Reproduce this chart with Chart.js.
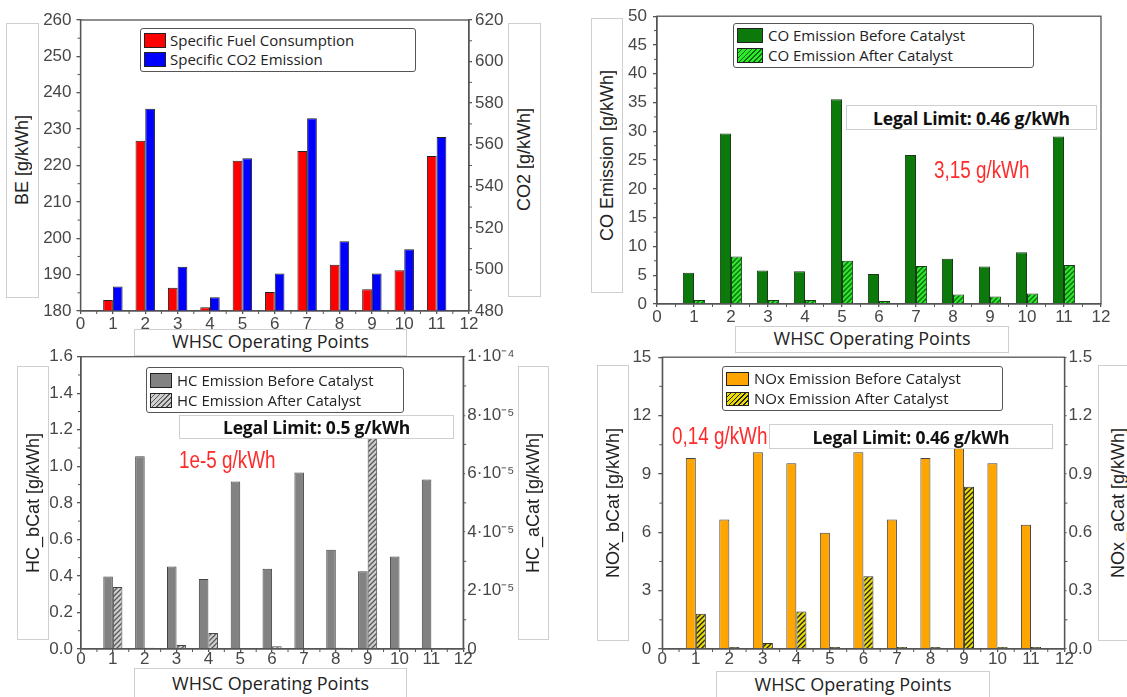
<!DOCTYPE html>
<html>
<head>
<meta charset="utf-8">
<script src="https://cdn.jsdelivr.net/npm/chart.js@4.4.0/dist/chart.umd.min.js"></script>
<style>
    body { margin: 0; background: #fff; width: 1127px; height: 697px; position: relative; overflow: hidden; }
    .panel { position: absolute; }
    .box { position: absolute; background: #fff; border: 1px solid #cfcfcf; box-sizing: border-box; }
    .ytitle { display: flex; align-items: center; justify-content: center; }
    .ytitle span { writing-mode: vertical-rl; transform: rotate(180deg); white-space: nowrap;
        font: 18px 'Liberation Sans', Arial, sans-serif; color: #222; }
    .xtitle { display: flex; justify-content: center; align-items: flex-start;
        font: 18px 'Open Sans', sans-serif; color: #222; }
    .limit { display: flex; justify-content: center; align-items: center;
        font: bold 17.5px 'Open Sans', sans-serif; color: #111; letter-spacing: -0.2px; }
    .legend { position: absolute; background: #fff; border: 1.3px solid #555; border-radius: 3px; box-sizing: border-box; }
    .legend .sw { position: absolute; border: 1px solid #222; box-sizing: border-box; }
    .legend .lt { position: absolute; font: 15px 'Open Sans', sans-serif; color: #222; line-height: 16px; white-space: nowrap; }
    .red { position: absolute; font: 23px 'Liberation Sans', Arial, sans-serif; line-height: 23px; color: #ff2b2b;
        transform: scaleX(0.82); transform-origin: left center; white-space: nowrap; }
</style>
</head>
<body>
<div class="panel" style="left:30px;top:0px"><canvas id="chart-fuel" width="490" height="340"></canvas></div>
<div class="panel" style="left:620px;top:0px"><canvas id="chart-co" width="507" height="340"></canvas></div>
<div class="panel" style="left:30px;top:340px"><canvas id="chart-hc" width="490" height="357"></canvas></div>
<div class="panel" style="left:620px;top:340px"><canvas id="chart-nox" width="507" height="357"></canvas></div>
<div id="overlay"></div>

<script>
// WHSC Betriebspunkte
const points = [1, 2, 3, 4, 5, 6, 7, 8, 9, 10, 11];

// spezifischer Verbrauch und CO2
const fuelBE = [183.0, 226.8, 186.4, 181.0, 221.3, 185.2, 224.0, 192.7, 186.0, 191.2, 222.6];
const co2 = [491.8, 577.3, 501.3, 486.6, 553.5, 498.1, 572.7, 513.6, 498.1, 509.7, 563.7];

// CO vor / nach Kat
const coBefore = [5.45, 29.6, 5.8, 5.7, 35.55, 5.2, 25.9, 7.86, 6.5, 9.0, 29.1];
const coAfter = [0.7, 8.26, 0.7, 0.7, 7.5, 0.5, 6.6, 1.66, 1.3, 1.83, 6.77];

// HC vor / nach Kat (nach Kat auf eigener Achse)
const hcBefore = [0.397, 1.055, 0.452, 0.383, 0.917, 0.439, 0.966, 0.543, 0.425, 0.507, 0.928];
const hcAfter = [2.12e-5, 4e-7, 1.4e-6, 5.5e-6, 3e-7, 9e-7, 3e-7, 4e-7, 7.3e-5, 3e-7, 3e-7];

// NOx vor / nach Kat
const noxBefore = [9.82, 6.66, 10.11, 9.55, 5.98, 10.11, 6.66, 9.82, 10.4, 9.55, 6.39];
const noxAfter = [0.181, 0.01, 0.031, 0.193, 0.01, 0.374, 0.01, 0.01, 0.834, 0.01, 0.01];

// Beschriftungen
const xTitle = 'WHSC Operating Points';
const fuelLegend = ['Specific Fuel Consumption', 'Specific CO2 Emission'];
const coLegend = ['CO Emission Before Catalyst', 'CO Emission After Catalyst'];
const hcLegend = ['HC Emission Before Catalyst', 'HC Emission After Catalyst'];
const noxLegend = ['NOx Emission Before Catalyst', 'NOx Emission After Catalyst'];
const coLimit = 'Legal Limit: 0.46 g/kWh';
const hcLimit = 'Legal Limit: 0.5 g/kWh';
const noxLimit = 'Legal Limit: 0.46 g/kWh';
const coCycle = '3,15 g/kWh';
const hcCycle = '1e-5 g/kWh';
const noxCycle = '0,14 g/kWh';

const axisCol = '#555';
const tickFont = { family: "'Liberation Sans', Arial, sans-serif", size: 17 };
const tickCol = '#474747';

// Schraffur fuer "nach Kat"
function hatch(base, stripe) {
    const c = document.createElement('canvas');
    c.width = 5; c.height = 5;
    const g = c.getContext('2d');
    g.fillStyle = base;
    g.fillRect(0, 0, 5, 5);
    g.strokeStyle = stripe;
    g.lineWidth = 1.3;
    g.beginPath();
    g.moveTo(-1, 6); g.lineTo(6, -1);
    g.moveTo(-1, 1); g.lineTo(1, -1);
    g.moveTo(4, 6); g.lineTo(6, 4);
    g.stroke();
    return g.createPattern(c, 'repeat');
}

function css_hatch(base, stripe) {
    return `repeating-linear-gradient(135deg, ${base} 0 2.2px, ${stripe} 2.2px 3.5px)`;
}

// Rahmen um die Plotflaeche
const frame = {
    id: 'frame',
    afterDraw(chart) {
        const a = chart.chartArea, ctx = chart.ctx;
        ctx.save();
        ctx.strokeStyle = axisCol;
        ctx.lineWidth = 1.3;
        ctx.strokeRect(a.left, a.top, a.right - a.left, a.bottom - a.top);
        ctx.restore();
    }
};

// Zwischenstriche auf den Achsen
const minorTicks = {
    id: 'minorTicks',
    afterDraw(chart) {
        const a = chart.chartArea, ctx = chart.ctx;
        ctx.save();
        ctx.strokeStyle = axisCol;
        ctx.lineWidth = 1;
        Object.values(chart.scales).forEach(s => {
            const t = s.ticks;
            for (let i = 0; i < t.length - 1; i++) {
                const p = s.getPixelForValue((t[i].value + t[i + 1].value) / 2);
                ctx.beginPath();
                if (s.axis === 'x') { ctx.moveTo(p, a.bottom); ctx.lineTo(p, a.bottom + 3); }
                else if (s.position === 'left') { ctx.moveTo(a.left, p); ctx.lineTo(a.left - 3, p); }
                else { ctx.moveTo(a.right, p); ctx.lineTo(a.right + 3, p); }
                ctx.stroke();
            }
        });
        ctx.restore();
    }
};

function series(ys) {
    return points.map((p, i) => ({ x: p, y: ys[i] }));
}

function yAxis(pos, min, max, step, width, tickLen, pad, fmt) {
    return {
        type: 'linear', position: pos, min: min, max: max,
        ticks: { stepSize: step, font: tickFont, color: tickCol, padding: pad, callback: fmt },
        grid: { drawOnChartArea: false, tickLength: tickLen, color: axisCol, lineWidth: 1.3 },
        border: { color: axisCol, width: 1.3 },
        afterFit: s => { s.width = width; }
    };
}

function makeChart(id, datasets, o) {
    const scales = {
        x: {
            type: 'linear', min: 0, max: 12, offset: false,
            ticks: { stepSize: 1, font: tickFont, color: tickCol, padding: o.xPad, maxRotation: 0, autoSkip: false },
            grid: { drawOnChartArea: false, offset: false, tickLength: 3, color: axisCol, lineWidth: 1.3 },
            border: { color: axisCol, width: 1.3 },
            afterFit: s => { s.height = o.xHeight; }
        },
        y: o.y
    };
    if (o.y2) scales.y2 = o.y2;
    return new Chart(document.getElementById(id), {
        type: 'bar',
        data: { datasets: datasets },
        options: {
            responsive: false,
            animation: false,
            layout: { padding: { top: o.top, right: o.right || 0, left: 0, bottom: 0 } },
            plugins: { legend: { display: false }, tooltip: { enabled: false } },
            datasets: { bar: { categoryPercentage: 0.6, barPercentage: 1, borderWidth: 1 } },
            scales: scales
        },
        plugins: [frame, minorTicks]
    });
}

// Verbrauch / CO2
makeChart('chart-fuel', [
    { data: series(fuelBE), yAxisID: 'y', backgroundColor: '#ff0000', borderColor: '#222' },
    { data: series(co2), yAxisID: 'y2', backgroundColor: '#0000ff', borderColor: '#222' }
], {
    top: 20, xHeight: 29, xPad: 0,
    y: yAxis('left', 180, 260, 10, 50.5, 4, 5),
    y2: yAxis('right', 480, 620, 20, 51, 3, 3)
});

// CO
makeChart('chart-co', [
    { data: series(coBefore), yAxisID: 'y', backgroundColor: '#0b7a0b', borderColor: '#1a3a1a' },
    { data: series(coAfter), yAxisID: 'y', backgroundColor: hatch('#2ee82e', '#0a6a0a'), borderColor: '#1a3a1a' }
], {
    top: 13.3, right: 26, xHeight: 36, xPad: 0,
    y: yAxis('left', 0, 50, 5, 37, 4, 6)
});

// HC
makeChart('chart-hc', [
    { data: series(hcBefore), yAxisID: 'y', backgroundColor: '#828282', borderColor: '#444' },
    { data: series(hcAfter), yAxisID: 'y2', backgroundColor: hatch('#cfcfcf', '#5a5a5a'), borderColor: '#444' }
], {
    top: 16.7, xHeight: 48, xPad: -3,
    y: yAxis('left', 0, 1.6, 0.2, 51, 4, 4, v => v.toFixed(1)),
    y2: yAxis('right', 0, 1e-4, 2e-5, 56.8, 2, 2, v => {
        const n = Math.round(v / 1e-5);
        if (n === 0) return '0';
        if (n === 10) return '1·10⁻⁴';
        return n + '·10⁻⁵';
    })
});

// NOx
makeChart('chart-nox', [
    { data: series(noxBefore), yAxisID: 'y', backgroundColor: '#ffa500', borderColor: '#444' },
    { data: series(noxAfter), yAxisID: 'y2', backgroundColor: hatch('#ecdc00', '#222'), borderColor: '#333' }
], {
    top: 16.7, xHeight: 48, xPad: -3,
    y: yAxis('left', 0, 15, 3, 42.3, 4, 7),
    y2: yAxis('right', 0, 1.5, 0.3, 62.5, 2, 2, v => v.toFixed(1))
});

// Kaesten, Legenden und Texte
const overlay = document.getElementById('overlay');

function el(cls, x, y, w, h, html) {
    const d = document.createElement('div');
    d.className = cls;
    d.style.left = x + 'px';
    d.style.top = y + 'px';
    if (w != null) d.style.width = w + 'px';
    if (h != null) d.style.height = h + 'px';
    if (html != null) d.innerHTML = html;
    overlay.appendChild(d);
    return d;
}

function ytitle(x, y, w, h, text) {
    return el('box ytitle', x, y, w, h, '<span>' + text + '</span>');
}

function xtitleBox(x, y, w, h, top) {
    const d = el('box xtitle', x, y, w, h, xTitle);
    d.style.paddingTop = top + 'px';
    d.style.lineHeight = '20px';
}

function legend(x, y, w, h, sw, items) {
    const d = el('legend', x, y, w, h);
    items.forEach((it, i) => {
        const s = document.createElement('div');
        s.className = 'sw';
        s.style.left = sw.x + 'px';
        s.style.top = sw.rows[i] + 'px';
        s.style.width = sw.w + 'px';
        s.style.height = sw.h + 'px';
        s.style.background = it.bg;
        d.appendChild(s);
        const t = document.createElement('div');
        t.className = 'lt';
        t.style.left = sw.tx + 'px';
        t.style.top = (sw.rows[i] + sw.h / 2 - 8 - 1) + 'px';
        t.textContent = it.label;
        d.appendChild(t);
    });
}

// oben links
ytitle(6, 23, 33, 275, 'BE [g/kWh]');
ytitle(508, 23, 33, 274, 'CO2 [g/kWh]');
xtitleBox(134, 329, 273, 27, 1);
legend(140, 28, 276, 44, { x: 3, w: 22, h: 15, rows: [4, 23], tx: 29 }, [
    { label: fuelLegend[0], bg: '#ff0000' },
    { label: fuelLegend[1], bg: '#0000ff' }
]);

// oben rechts
ytitle(591, 18, 32, 275, 'CO Emission [g/kWh]');
xtitleBox(735, 326, 274, 27, 1);
legend(733, 23, 301, 45, { x: 3, w: 26, h: 15, rows: [4, 24], tx: 34 }, [
    { label: coLegend[0], bg: '#0b7a0b' },
    { label: coLegend[1], bg: css_hatch('#2ee82e', '#0a6a0a') }
]);
el('box limit', 846, 105, 251, 25, coLimit);
el('red', 934, 159, null, null, coCycle);

// unten links
ytitle(17, 366, 32, 274, 'HC_bCat [g/kWh]');
ytitle(518, 366, 31, 274, 'HC_aCat [g/kWh]');
xtitleBox(134, 668, 273, 40, 4);
legend(146, 367, 258, 46, { x: 3, w: 22, h: 15, rows: [5, 25], tx: 30 }, [
    { label: hcLegend[0], bg: '#828282' },
    { label: hcLegend[1], bg: css_hatch('#cfcfcf', '#5a5a5a') }
]);
el('box limit', 179, 415, 275, 24, hcLimit);
el('red', 179, 449, null, null, hcCycle);

// unten rechts
ytitle(597, 365, 32, 276, 'NOx_bCat [g/kWh]');
ytitle(1098, 365, 40, 276, 'NOx_aCat [g/kWh]');
xtitleBox(716, 671, 274, 40, 2);
legend(722, 366, 281, 45, { x: 3, w: 23, h: 14, rows: [5, 25], tx: 31 }, [
    { label: noxLegend[0], bg: '#ffa500' },
    { label: noxLegend[1], bg: css_hatch('#ecdc00', '#222') }
]);
el('box limit', 769, 424, 284, 25, noxLimit);
el('red', 672, 425, null, null, noxCycle);
</script>
</body>
</html>
